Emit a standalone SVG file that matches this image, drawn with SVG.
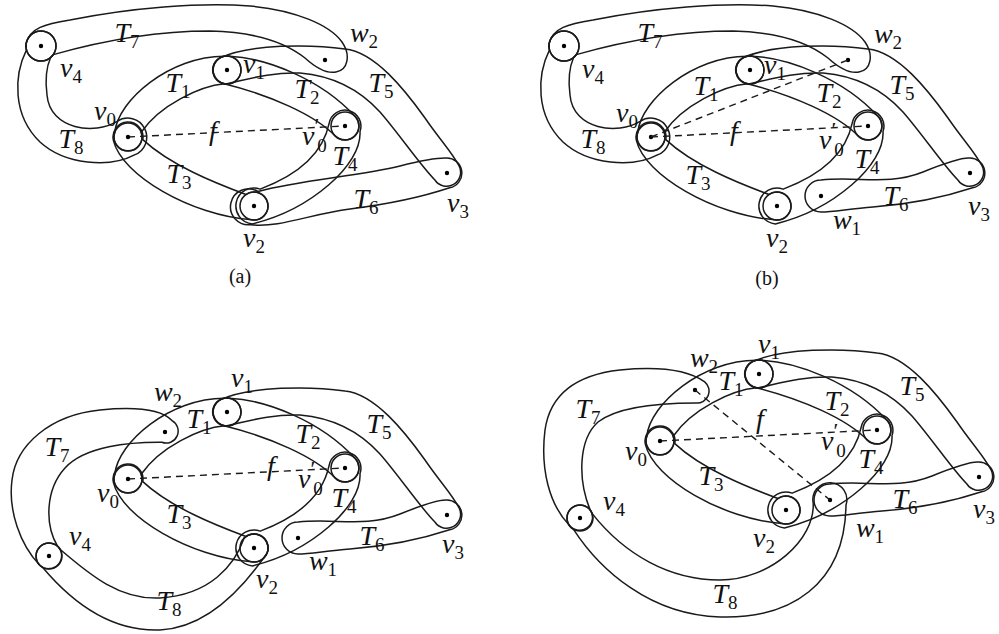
<svg xmlns="http://www.w3.org/2000/svg" xmlns:xlink="http://www.w3.org/1999/xlink" width="999" height="634" viewBox="0 0 999 634">
<style>
.c{fill:none;stroke:#1a1a1a;stroke-width:1.5}
.d{fill:none;stroke:#1a1a1a;stroke-width:1.4;stroke-dasharray:7 5}
.p{fill:#000}
text{font-family:"Liberation Serif","Times New Roman",serif;fill:#111}
.m{font-style:italic;font-size:28px;text-anchor:middle}
.q{font-style:italic;font-size:28px}
.s{font-style:normal;font-size:19px}
.pr{font-style:normal;font-size:22px}
.cap{font-size:20px;text-anchor:middle}
</style>
<rect width="999" height="634" fill="#fff"/>
<defs>
<g id="ring">
<path id="T1" class="c" d="M114.8,132.2 C118,100 170,56 224.6,56.2 A14 14 0 1 1 224.6,83.8 C200,86 160,105 141.2,132.2 A14 14 0 1 1 114.8,132.2 Z"/>
<path id="T2" class="c" d="M229.4,56.2 C265,58 320,78 355.7,117 A14 14 0 0 1 335.1,135.9 C315,115 270,95 222.2,83.2 A14 14 0 0 1 229.4,56.2 Z"/>
<path id="T3" class="c" d="M113.5,140.9 C122,175 190,215 251.6,219.8 A14 14 0 1 0 246,194.5 C215,183 170,165 142.8,139.6 A15 15 0 1 0 113.5,140.9 Z"/>
<path id="T4" class="c" d="M329.2,123.2 A16 16 0 1 1 360,131.5 C362,165 310,210 252.4,223.9 A18 18 0 1 1 260.2,189.1 C290,178 322,158 329.2,123.2 Z"/>
<path id="T5" class="c" d="M220,57.9 C250,44 310,44 345,49 C375,52 405,90 425,118 C440,140 452,152 459.1,166 A14 14 0 0 1 434.9,180 C420,165 400,135 380,112 C360,90 335,76 300,73 C270,72 245,80 225.8,83.9 A14 14 0 0 1 220,57.9 Z"/>
<circle class="c" cx="128" cy="137" r="14"/>
<circle class="c" cx="227" cy="70" r="14"/>
<circle class="c" cx="345" cy="126" r="14"/>
<circle class="c" cx="254" cy="206" r="14"/>
<path class="d" d="M128,137 L345,126"/>
<circle class="p" cx="128" cy="137" r="2.2"/>
<circle class="p" cx="227" cy="70" r="2.2"/>
<circle class="p" cx="345" cy="126" r="2.2"/>
<circle class="p" cx="254" cy="206" r="2.2"/>
<circle class="p" cx="447" cy="173" r="2.2"/>
</g>
<g id="t6a">
<path class="c" d="M257.9,191.5 C300,180 360,176 400,166 C420,161 435,158 445.7,158.1 A15 15 0 0 1 449.6,187.8 C425,196 390,204 350,209 C310,214 280,228 250.7,224.7 A18 18 0 1 1 257.9,191.5 Z"/>
</g>
<g id="t6w">
<path class="c" d="M298,180 C335,176 365,186 400,172 C425,162 437,158 445.7,158.1 A15 15 0 0 1 449.6,187.8 C425,196 390,204 350,207 C325,209 310,212 298,212 A16 16 0 0 1 298,180 Z"/>
<circle class="p" cx="298" cy="196" r="2.2"/>
</g>
<g id="t78a">
<path class="c" d="M26.2,43.4 C30,28 45,24 70,20 C130,8 200,2 250,6 C295,10 330,25 342,42 C351,55 348,70 336,72 C326,74 316,68 305,58 C285,42 255,32 210,31 C160,31 105,40 53.3,54.6 A15 15 0 0 1 26.2,43.4 Z"/>
<path class="c" d="M26.5,49.9 C14,75 12,115 40,142 C65,165 110,168 134.5,154.9 A19 19 0 1 0 117.1,121.4 C95,135 50,130 47,95 C45,80 46,68 50.6,57.5 A15 15 0 1 0 26.5,49.9 Z"/>
<circle class="c" cx="41" cy="46" r="15"/>
<circle class="p" cx="41" cy="46" r="2.2"/>
<circle class="p" cx="325" cy="60" r="2.2"/>
</g>
</defs>

<g id="panel-a">
<use xlink:href="#ring"/>
<use xlink:href="#t6a"/>
<use xlink:href="#t78a"/>
<text class="m" x="127" y="42">T<tspan class="s" dy="6">7</tspan></text>
<text class="m" x="71" y="77">v<tspan class="s" dy="6">4</tspan></text>
<text class="m" x="364" y="42">w<tspan class="s" dy="6">2</tspan></text>
<text class="m" x="254" y="73">v<tspan class="s" dy="6">1</tspan></text>
<text class="m" x="178" y="92">T<tspan class="s" dy="6">1</tspan></text>
<text class="m" x="307" y="98">T<tspan class="s" dy="6">2</tspan></text>
<text class="m" x="381" y="92">T<tspan class="s" dy="6">5</tspan></text>
<text class="m" x="105" y="120">v<tspan class="s" dy="6">0</tspan></text>
<text class="m" x="71" y="148">T<tspan class="s" dy="6">8</tspan></text>
<text class="m" x="213" y="140">f</text>
<text class="q" x="302" y="145">v<tspan class="pr" dy="-12">′</tspan><tspan class="s" dx="-2" dy="19">0</tspan></text>
<text class="m" x="345" y="165">T<tspan class="s" dy="6">4</tspan></text>
<text class="m" x="179" y="183">T<tspan class="s" dy="6">3</tspan></text>
<text class="m" x="366" y="208">T<tspan class="s" dy="6">6</tspan></text>
<text class="m" x="458" y="212">v<tspan class="s" dy="6">3</tspan></text>
<text class="m" x="254" y="247">v<tspan class="s" dy="6">2</tspan></text>
<text class="cap" x="240" y="283">(a)</text>
</g>

<g id="panel-b">
<g transform="translate(523,0)">
<use xlink:href="#ring"/>
<use xlink:href="#t6w"/>
<use xlink:href="#t78a"/>
<path class="d" d="M128,137 L325,60"/>
</g>
<text class="m" x="650" y="42">T<tspan class="s" dy="6">7</tspan></text>
<text class="m" x="593" y="78">v<tspan class="s" dy="6">4</tspan></text>
<text class="m" x="888" y="43">w<tspan class="s" dy="6">2</tspan></text>
<text class="m" x="775" y="74">v<tspan class="s" dy="6">1</tspan></text>
<text class="m" x="706" y="95">T<tspan class="s" dy="6">1</tspan></text>
<text class="m" x="829" y="102">T<tspan class="s" dy="6">2</tspan></text>
<text class="m" x="902" y="94">T<tspan class="s" dy="6">5</tspan></text>
<text class="m" x="627" y="122">v<tspan class="s" dy="6">0</tspan></text>
<text class="m" x="593" y="148">T<tspan class="s" dy="6">8</tspan></text>
<text class="m" x="734" y="140">f</text>
<text class="q" x="819" y="149">v<tspan class="pr" dy="-12">′</tspan><tspan class="s" dx="-2" dy="19">0</tspan></text>
<text class="m" x="867" y="168">T<tspan class="s" dy="6">4</tspan></text>
<text class="m" x="698" y="184">T<tspan class="s" dy="6">3</tspan></text>
<text class="m" x="896" y="205">T<tspan class="s" dy="6">6</tspan></text>
<text class="m" x="979" y="215">v<tspan class="s" dy="6">3</tspan></text>
<text class="m" x="847" y="229">w<tspan class="s" dy="6">1</tspan></text>
<text class="m" x="777" y="247">v<tspan class="s" dy="6">2</tspan></text>
<text class="cap" x="767" y="285">(b)</text>
</g>

<g id="panel-c">
<g transform="translate(0,342)">
<use xlink:href="#ring"/>
<use xlink:href="#t6w"/>
</g>
<path id="T7c" class="c" d="M39.8,565.2 C20,545 8,510 12,480 C16,445 50,415 100,410 C130,407 160,408 172,420.6 A12 12 0 0 1 161.9,442.3 C130,442 85,446 65,468 C45,490 45,525 57.4,546 A13 13 0 1 1 39.8,565.2 Z"/>
<path id="T8c" class="c" d="M42.5,567.3 C70,600 110,632 160,630 C200,628 235,600 267.2,552.8 A14 14 0 0 0 244.1,538.1 C235,565 210,595 160,598 C120,600 90,575 60.3,549.5 A13 13 0 1 0 42.5,567.3 Z"/>
<circle class="c" cx="49" cy="556" r="13"/>
<circle class="p" cx="49" cy="556" r="2.2"/>
<circle class="p" cx="165" cy="432" r="2.2"/>
<text class="m" x="242" y="387">v<tspan class="s" dy="6">1</tspan></text>
<text class="m" x="168" y="401">w<tspan class="s" dy="6">2</tspan></text>
<text class="m" x="199" y="428">T<tspan class="s" dy="6">1</tspan></text>
<text class="m" x="308" y="443">T<tspan class="s" dy="6">2</tspan></text>
<text class="m" x="379" y="433">T<tspan class="s" dy="6">5</tspan></text>
<text class="m" x="57" y="456">T<tspan class="s" dy="6">7</tspan></text>
<text class="m" x="271" y="475">f</text>
<text class="q" x="298" y="488">v<tspan class="pr" dy="-12">′</tspan><tspan class="s" dx="-2" dy="19">0</tspan></text>
<text class="m" x="344" y="507">T<tspan class="s" dy="6">4</tspan></text>
<text class="m" x="108" y="502">v<tspan class="s" dy="6">0</tspan></text>
<text class="m" x="179" y="523">T<tspan class="s" dy="6">3</tspan></text>
<text class="m" x="372" y="545">T<tspan class="s" dy="6">6</tspan></text>
<text class="m" x="453" y="553">v<tspan class="s" dy="6">3</tspan></text>
<text class="m" x="80" y="545">v<tspan class="s" dy="6">4</tspan></text>
<text class="m" x="323" y="570">w<tspan class="s" dy="6">1</tspan></text>
<text class="m" x="267" y="588">v<tspan class="s" dy="6">2</tspan></text>
<text class="m" x="169" y="610">T<tspan class="s" dy="6">8</tspan></text>
</g>

<g id="panel-d">
<g transform="translate(532,304)">
<use xlink:href="#ring"/>
<use xlink:href="#t6w"/>
</g>
<path id="T7d" class="c" d="M568.7,524.5 C550,505 540,470 545,430 C550,395 575,375 620,370 C650,367 685,368 704.7,381.8 A12 12 0 0 1 696,403 C670,403 620,405 598,422 C578,440 578,480 590,509.6 A13 13 0 1 1 568.7,524.5 Z"/>
<path id="T8d" class="c" d="M573.5,529.3 C600,570 650,615 720,617 C790,619 845,585 846,505 A17 17 0 1 0 813.2,503 C815,540 770,580 720,580 C670,580 625,555 592.2,513.6 A13 13 0 1 0 573.5,529.3 Z"/>
<circle class="c" cx="580" cy="518" r="13"/>
<circle class="p" cx="580" cy="518" r="2.2"/>
<circle class="p" cx="695" cy="390" r="2.2"/>
<path class="d" d="M695,390 L830,500"/>
<text class="m" x="769" y="353">v<tspan class="s" dy="6">1</tspan></text>
<text class="m" x="704" y="367">w<tspan class="s" dy="6">2</tspan></text>
<text class="m" x="731" y="390">T<tspan class="s" dy="6">1</tspan></text>
<text class="m" x="837" y="410">T<tspan class="s" dy="6">2</tspan></text>
<text class="m" x="912" y="395">T<tspan class="s" dy="6">5</tspan></text>
<text class="m" x="588" y="418">T<tspan class="s" dy="6">7</tspan></text>
<text class="m" x="760" y="428">f</text>
<text class="q" x="821" y="450">v<tspan class="pr" dy="-12">′</tspan><tspan class="s" dx="-2" dy="19">0</tspan></text>
<text class="m" x="871" y="468">T<tspan class="s" dy="6">4</tspan></text>
<text class="m" x="636" y="460">v<tspan class="s" dy="6">0</tspan></text>
<text class="m" x="711" y="485">T<tspan class="s" dy="6">3</tspan></text>
<text class="m" x="905" y="508">T<tspan class="s" dy="6">6</tspan></text>
<text class="m" x="984" y="518">v<tspan class="s" dy="6">3</tspan></text>
<text class="m" x="614" y="510">v<tspan class="s" dy="6">4</tspan></text>
<text class="m" x="764" y="547">v<tspan class="s" dy="6">2</tspan></text>
<text class="m" x="870" y="537">w<tspan class="s" dy="6">1</tspan></text>
<text class="m" x="725" y="603">T<tspan class="s" dy="6">8</tspan></text>
</g>
</svg>
